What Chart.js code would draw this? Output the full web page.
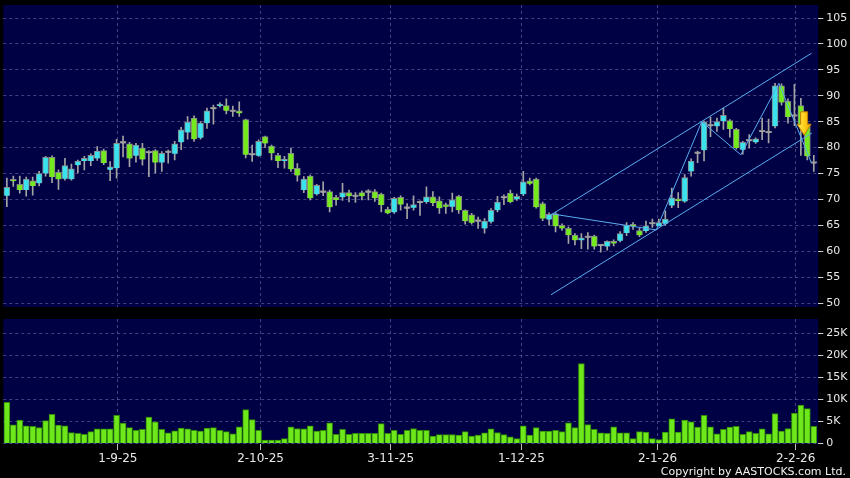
<!DOCTYPE html>
<html>
<head>
<meta charset="utf-8">
<script src="https://cdn.jsdelivr.net/npm/chart.js@4.4.1/dist/chart.umd.min.js"></script>
<style>
  html, body { margin: 0; padding: 0; background: #000; }
  #wrap { position: relative; width: 850px; height: 478px; overflow: hidden; background: #000; }
  #wrap canvas { position: absolute; left: 0; }
  #price { top: 0; }
  #vol { top: 312px; }
  #copy { position: absolute; right: 4px; top: 465px; color: #f2f2f2; font: 11px 'DejaVu Sans', sans-serif; }
</style>
</head>
<body>
<div id="wrap">
  <canvas id="price" width="850" height="312"></canvas>
  <canvas id="vol" width="850" height="166"></canvas>
  <div id="copy">Copyright by AASTOCKS.com Ltd.</div>
</div>
<script>
// daily candles, oldest first
var open = [70.7, 73.8, 72.9, 71.8, 73.6, 73.1, 75.0, 78.1, 75.2, 74.0,
    73.9, 76.6, 77.4, 77.4, 77.9, 79.4, 75.7, 76.0, 80.8, 80.7,
    78.4, 79.9, 78.9, 79.4, 77.1, 79.0, 78.8, 81.0, 82.9, 85.7,
    81.9, 84.7, 87.4, 88.0, 88.1, 86.9, 87.1, 85.4, 78.5, 78.4,
    82.1, 80.3, 78.5, 77.4, 78.9, 76.0, 71.8, 74.5, 71.0, 71.3,
    71.5, 70.4, 70.4, 71.3, 70.5, 71.3, 71.3, 71.5, 71.0, 68.1,
    67.5, 70.4, 68.2, 68.4, 69.3, 69.5, 70.5, 69.7, 68.9, 68.6,
    70.6, 67.9, 67.0, 65.7, 64.4, 65.7, 67.9, 70.2, 71.2, 70.0,
    71.0, 73.6, 73.9, 69.2, 66.1, 67.2, 65.0, 64.4, 63.1, 62.1,
    62.6, 62.9, 61.0, 60.9, 61.9, 62.0, 63.5, 65.1, 64.0, 63.9,
    65.2, 64.8, 65.3, 68.8, 70.0, 69.6, 75.4, 78.8, 79.5, 84.1,
    84.1, 85.1, 85.2, 83.5, 79.6, 81.2, 81.0, 83.0, 82.8, 84.1,
    91.9, 88.9, 86.0, 88.1, 84.6, 76.9];
var high = [74.1, 74.5, 74.5, 74.3, 74.3, 75.4, 78.3, 78.4, 75.7, 77.9,
    76.8, 77.6, 78.3, 78.8, 80.2, 79.7, 77.3, 81.6, 82.2, 81.0,
    80.8, 80.8, 79.4, 79.6, 79.2, 79.5, 81.2, 83.9, 86.0, 86.1,
    85.0, 87.6, 88.2, 88.7, 89.4, 88.0, 88.8, 85.5, 80.5, 81.5,
    82.2, 80.5, 78.9, 78.3, 79.9, 76.9, 74.4, 74.7, 72.9, 73.4,
    71.8, 70.8, 73.1, 71.8, 71.3, 71.6, 71.9, 71.9, 71.2, 68.5,
    70.4, 70.7, 69.2, 70.7, 69.7, 72.4, 71.5, 70.5, 69.3, 71.2,
    70.8, 68.0, 67.3, 66.6, 66.3, 68.2, 70.6, 70.9, 71.8, 71.0,
    75.4, 74.1, 74.1, 69.5, 67.4, 67.5, 65.3, 64.7, 63.4, 63.4,
    63.6, 63.1, 61.3, 62.0, 62.2, 63.8, 65.5, 65.5, 64.4, 65.8,
    66.2, 66.2, 67.8, 72.2, 71.3, 74.8, 77.8, 79.3, 85.1, 85.9,
    85.7, 87.6, 85.4, 83.7, 81.2, 82.5, 81.9, 85.7, 85.5, 92.4,
    92.3, 89.4, 92.2, 89.5, 84.8, 78.5];
var low = [68.6, 72.5, 71.2, 70.6, 70.8, 72.6, 74.5, 73.2, 71.9, 73.7,
    73.7, 75.1, 75.7, 76.5, 77.5, 76.7, 73.6, 74.1, 78.2, 76.3,
    77.2, 76.6, 74.4, 75.1, 75.4, 77.0, 77.6, 79.6, 81.6, 81.2,
    81.6, 83.7, 84.5, 87.8, 86.5, 86.0, 86.0, 78.0, 77.3, 78.3,
    80.0, 77.6, 76.1, 76.0, 75.4, 73.5, 71.3, 69.9, 70.8, 70.7,
    67.6, 68.9, 69.8, 69.5, 69.4, 69.9, 69.9, 69.6, 67.6, 67.2,
    67.3, 67.9, 66.3, 67.9, 66.9, 69.2, 68.8, 67.3, 67.3, 67.6,
    67.3, 65.2, 65.2, 64.4, 63.5, 65.4, 67.6, 69.0, 69.3, 69.8,
    70.7, 72.8, 68.3, 65.9, 65.0, 63.7, 64.0, 61.5, 61.2, 60.5,
    60.4, 60.4, 59.8, 60.2, 61.0, 61.8, 63.0, 64.2, 62.8, 63.6,
    64.6, 64.9, 65.0, 68.4, 68.4, 69.4, 74.5, 77.1, 77.4, 82.1,
    83.1, 83.5, 82.0, 79.7, 78.7, 79.9, 80.8, 81.5, 80.9, 83.8,
    88.2, 84.7, 84.2, 78.5, 77.6, 75.4];
var close = [72.3, 73.5, 71.8, 73.9, 72.6, 75.0, 78.1, 74.3, 73.9, 76.5,
    75.9, 77.4, 77.9, 78.5, 79.3, 77.0, 76.3, 80.8, 80.8, 77.9,
    80.5, 77.7, 78.9, 77.1, 78.9, 79.0, 80.7, 83.4, 84.9, 81.6,
    84.7, 87.1, 87.4, 88.4, 87.1, 86.9, 86.6, 78.6, 78.5, 81.2,
    80.8, 78.9, 77.4, 77.7, 75.8, 74.6, 73.9, 70.2, 72.7, 71.3,
    68.5, 69.9, 71.3, 70.6, 70.5, 70.6, 71.3, 70.2, 68.9, 67.3,
    70.2, 69.0, 68.2, 69.0, 69.3, 70.5, 69.3, 68.3, 68.6, 69.9,
    67.9, 65.8, 65.5, 65.7, 65.8, 67.9, 69.5, 70.2, 69.5, 70.6,
    73.4, 73.0, 68.5, 66.3, 67.1, 64.8, 64.4, 63.1, 62.1, 62.6,
    62.6, 60.9, 61.0, 61.9, 61.5, 63.4, 65.0, 64.8, 63.1, 64.9,
    65.2, 65.5, 66.2, 70.3, 69.7, 74.2, 77.4, 78.8, 84.9, 84.1,
    85.0, 86.2, 83.6, 79.9, 81.0, 81.2, 81.7, 83.0, 82.8, 91.9,
    88.7, 85.9, 86.0, 84.2, 78.3, 76.9];
var volume = [9300, 4250, 5300, 4000, 3900, 3600, 5200, 6600, 4200, 4000,
    2500, 2300, 2100, 2700, 3300, 3300, 3300, 6400, 4600, 3600,
    3000, 3200, 6000, 4900, 3200, 2400, 2900, 3500, 3300, 3000,
    2800, 3500, 3600, 3000, 2700, 2200, 3800, 7700, 5400, 3000,
    800, 800, 800, 1100, 3800, 3400, 3300, 4000, 2800, 3000,
    4700, 2100, 3200, 2100, 2300, 2300, 2300, 2300, 4500, 2300,
    3000, 2100, 3000, 3400, 3000, 3000, 1700, 2000, 2000, 2000,
    1900, 2700, 1700, 1900, 2400, 3300, 2500, 2000, 1500, 1100,
    4000, 1900, 3600, 2800, 2800, 3000, 2700, 4700, 3600, 18100,
    4300, 3200, 2400, 2300, 3800, 2400, 2400, 1100, 2700, 2600,
    1100, 900, 2600, 5600, 2600, 5300, 4900, 3700, 6400, 3800,
    2200, 3200, 3700, 3900, 2100, 2700, 2300, 3300, 2200, 6800,
    2800, 3400, 6900, 8700, 7900, 3900];

// date ticks sit on bar positions (index of trading day)
var xTickPos = [17.2, 39.3, 59.45, 79.7, 100.8, 122.2];
var xTickLabels = ['1-9-25', '2-10-25', '3-11-25', '1-12-25', '2-1-26', '2-2-26'];
var priceTicks = [50, 55, 60, 65, 70, 75, 80, 85, 90, 95, 100, 105];
var volTicks = [0, 5000, 10000, 15000, 20000, 25000];

// drawn trend lines (bar index, price)
var upperChannel = [{x: 84.3, y: 67.0}, {x: 124.65, y: 98.2}];
var lowerChannel = [{x: 84.3, y: 51.6}, {x: 124.7, y: 82.8}];
var zigzag = [{x: 84.4, y: 67.2}, {x: 100.6, y: 64.1}, {x: 107.65, y: 85.0},
    {x: 113.7, y: 78.6}, {x: 119.6, y: 92.4}, {x: 124.65, y: 77.0}];
// sell arrow: bar index, top / shaft end / tip prices
var arrowMark = {x: 123.5, top: 86.9, neck: 84.5, tip: 82.4};

var UP = '#3ae2ee', DOWN = '#74ea1e', FLAT = '#a8a8a8';
var PANEL = '#000044', GRID = 'rgba(130,130,185,0.5)', TEXT = '#e8e8e8';
var LINE = '#5aaef0';
var FONT = "'DejaVu Sans', sans-serif";
var X_MIN = -0.55, X_MAX = 125.7;

var idx = open.map(function(_, i) { return i; });

var panelBg = {
    id: 'panelBg',
    beforeDraw: function(chart) {
        var a = chart.chartArea, ctx = chart.ctx;
        ctx.save();
        ctx.fillStyle = PANEL;
        ctx.fillRect(a.left, a.top, a.right - a.left, a.bottom - a.top);
        ctx.restore();
    }
};

var arrowPlugin = {
    id: 'arrow',
    afterDatasetsDraw: function(chart) {
        var xs = chart.scales.x, ys = chart.scales.y, ctx = chart.ctx;
        var cx = xs.getPixelForValue(arrowMark.x);
        var yTop = ys.getPixelForValue(arrowMark.top);
        var yNeck = ys.getPixelForValue(arrowMark.neck);
        var yTip = ys.getPixelForValue(arrowMark.tip);
        ctx.save();
        var g = ctx.createLinearGradient(cx - 7, 0, cx + 7, 0);
        g.addColorStop(0, '#ffe45a');
        g.addColorStop(0.5, '#ffd21c');
        g.addColorStop(1, '#e8a000');
        ctx.beginPath();
        ctx.moveTo(cx - 3.5, yTop);
        ctx.lineTo(cx + 3.5, yTop);
        ctx.lineTo(cx + 3.5, yNeck);
        ctx.lineTo(cx + 7, yNeck);
        ctx.lineTo(cx, yTip);
        ctx.lineTo(cx - 7, yNeck);
        ctx.lineTo(cx - 3.5, yNeck);
        ctx.closePath();
        ctx.fillStyle = g;
        ctx.fill();
        ctx.strokeStyle = '#c07c00';
        ctx.lineWidth = 1;
        ctx.stroke();
        ctx.restore();
    }
};

function fixTicks(values) {
    return function(scale) {
        scale.ticks = values.map(function(v) { return {value: v}; });
    };
}

// pin the axis size and stop label overhang from shrinking the plot
function fitY(scale) {
    scale.width = 31.7;
    scale.paddingTop = 0;
    scale.paddingBottom = 0;
}

function fitX(h) {
    return function(scale) {
        scale.height = h;
        scale.paddingLeft = 0;
        scale.paddingRight = 0;
    };
}

function lineSet(points) {
    return {
        type: 'line', data: points, borderColor: LINE, borderWidth: 1,
        pointRadius: 0, fill: false, tension: 0, order: -1
    };
}

// price panel
var bodyData = idx.map(function(i) { return {x: i, y: [open[i], close[i]]}; });
var wickData = idx.map(function(i) { return {x: i, y: [low[i], high[i]]}; });
var bodyColor = idx.map(function(i) {
    return close[i] > open[i] ? UP : (close[i] < open[i] ? DOWN : FLAT);
});

new Chart(document.getElementById('price'), {
    type: 'bar',
    data: {
        datasets: [
            lineSet(upperChannel),
            lineSet(lowerChannel),
            lineSet(zigzag),
            {
                data: bodyData, backgroundColor: bodyColor,
                borderColor: 'rgba(140,140,140,0.95)', borderWidth: 1,
                barThickness: 6, minBarLength: 2, grouped: false, order: 0
            },
            {
                data: wickData, backgroundColor: '#a4a4a4',
                barThickness: 1, grouped: false, order: 1
            }
        ]
    },
    options: {
        responsive: false, animation: false, devicePixelRatio: 1,
        layout: {padding: {left: 3.3, top: 5, right: 0, bottom: 5}},
        plugins: {legend: {display: false}, tooltip: {enabled: false}},
        scales: {
            x: {
                type: 'linear', min: X_MIN, max: X_MAX, offset: false,
                afterBuildTicks: fixTicks(xTickPos),
                afterFit: fitX(0),
                ticks: {display: false},
                grid: {color: GRID, drawTicks: false, offset: false},
                border: {display: false, dash: [3, 3]}
            },
            y: {
                position: 'right', min: 49.23, max: 107.51,
                afterBuildTicks: fixTicks(priceTicks),
                afterFit: fitY,
                ticks: {color: TEXT, font: {family: FONT, size: 11}, padding: 3},
                grid: {color: GRID, tickColor: '#cfcfcf', tickLength: 5, tickBorderDash: []},
                border: {display: false, dash: [3, 3]}
            }
        }
    },
    plugins: [panelBg, arrowPlugin]
});

// volume panel
var volData = idx.map(function(i) { return {x: i, y: volume[i]}; });

new Chart(document.getElementById('vol'), {
    type: 'bar',
    data: {
        datasets: [{
            data: volData, backgroundColor: '#6ee81a', borderColor: '#2e8a08',
            borderWidth: 1, barThickness: 6, grouped: false
        }]
    },
    options: {
        responsive: false, animation: false, devicePixelRatio: 1,
        layout: {padding: {left: 3.3, top: 7, right: 0, bottom: 0}},
        plugins: {legend: {display: false}, tooltip: {enabled: false}},
        scales: {
            x: {
                type: 'linear', min: X_MIN, max: X_MAX, offset: false,
                afterBuildTicks: fixTicks(xTickPos),
                afterFit: fitX(34),
                ticks: {
                    color: TEXT, font: {family: FONT, size: 12}, padding: 2,
                    autoSkip: false, maxRotation: 0, minRotation: 0,
                    callback: function(v) { return xTickLabels[xTickPos.indexOf(v)]; }
                },
                grid: {color: GRID, tickColor: '#bdbdbd', tickLength: 6, tickBorderDash: [], offset: false},
                border: {display: false, dash: [3, 3]}
            },
            y: {
                position: 'right', min: -110, max: 28200,
                afterBuildTicks: fixTicks(volTicks),
                afterFit: fitY,
                ticks: {
                    color: TEXT, font: {family: FONT, size: 11}, padding: 3,
                    callback: function(v) { return v === 0 ? '0' : (v / 1000) + 'K'; }
                },
                grid: {color: GRID, tickColor: '#cfcfcf', tickLength: 5, tickBorderDash: []},
                border: {display: false, dash: [3, 3]}
            }
        }
    },
    plugins: [panelBg]
});
</script>
</body>
</html>
